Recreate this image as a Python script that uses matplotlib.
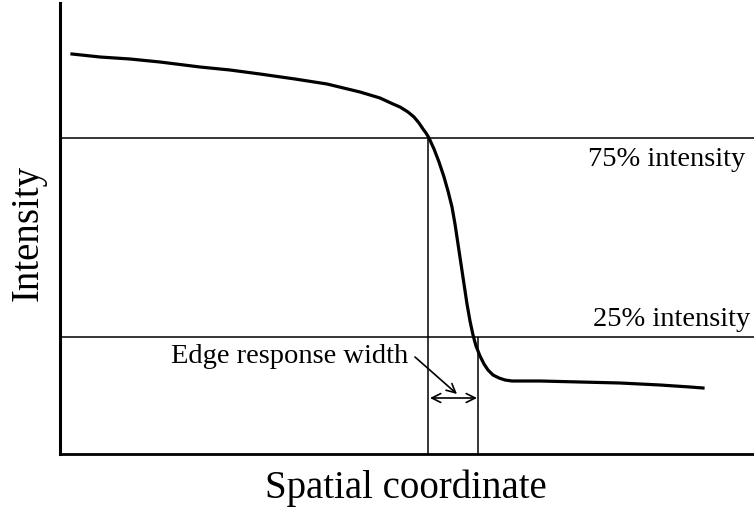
import matplotlib
matplotlib.use("Agg")
import matplotlib.pyplot as plt

plt.rcParams['font.family'] = ['Liberation Serif', 'DejaVu Serif']

# edge profile (arbitrary units)
position = [12, 40, 70, 100, 140, 170, 200, 235, 267, 300, 320, 333, 340, 348,
            354, 359, 363, 366, 369, 374, 379, 384, 388, 392, 395, 398, 401,
            404, 407, 410, 413, 416, 420, 424, 428, 433, 439, 445, 452, 480,
            520, 560, 600, 630, 643]
intensity = [400, 397, 395, 392, 387, 384, 380, 375, 370, 362, 356, 350, 347, 342,
             337, 331, 325, 321, 316, 305, 292, 277, 263, 247, 230, 210, 190,
             170, 150, 133, 119, 108, 98, 90, 84, 79, 76, 74, 73, 73,
             72, 71, 69, 67, 66]

level_75 = 316
level_25 = 117
edge_start = 368
edge_end = 418

fig = plt.figure(figsize=(7.54, 5.10), dpi=100)
ax = fig.add_axes([60 / 754, 55 / 510, 694 / 754, 451 / 510])
ax.set_xlim(0, 694)
ax.set_ylim(0, 451)

ax.plot(position, intensity, color='black', lw=2.3, solid_joinstyle='round')

# reference levels
ax.axhline(level_75, color='black', lw=1.1)
ax.axhline(level_25, color='black', lw=1.1)
ax.vlines(edge_start, 0, level_75, color='black', lw=1.1)
ax.vlines(edge_end, 0, level_25, color='black', lw=1.1)

ax.text(685, 295, '75% intensity', ha='right', va='center', fontsize=20.5)
ax.text(690, 136, '25% intensity', ha='right', va='center', fontsize=20.5)

# width arrow
ax.annotate('', xy=(edge_start + 2, 56), xytext=(edge_end - 1, 56),
            arrowprops=dict(arrowstyle='<->', color='black', lw=1.2,
                            mutation_scale=16, shrinkA=0, shrinkB=0))
ax.text(348, 98, 'Edge response width', ha='right', va='center', fontsize=20.5)
ax.annotate('', xy=(397, 60), xytext=(355, 97),
            arrowprops=dict(arrowstyle='->', color='black', lw=1.2,
                            mutation_scale=16, shrinkA=0, shrinkB=0))

for side in ('top', 'right'):
    ax.spines[side].set_visible(False)
ax.spines['left'].set_linewidth(2.2)
ax.spines['bottom'].set_linewidth(2.0)
ax.set_xticks([])
ax.set_yticks([])

ax.set_xlabel('Spatial coordinate', fontsize=28)
ax.xaxis.label.set_va('center')
ax.xaxis.set_label_coords(346 / 694, -33 / 451)
ax.set_ylabel('Intensity', fontsize=28)
ax.yaxis.label.set_va('center')
ax.yaxis.set_label_coords(-32 / 694, 222 / 451)

fig.savefig('out.png', dpi=100)
